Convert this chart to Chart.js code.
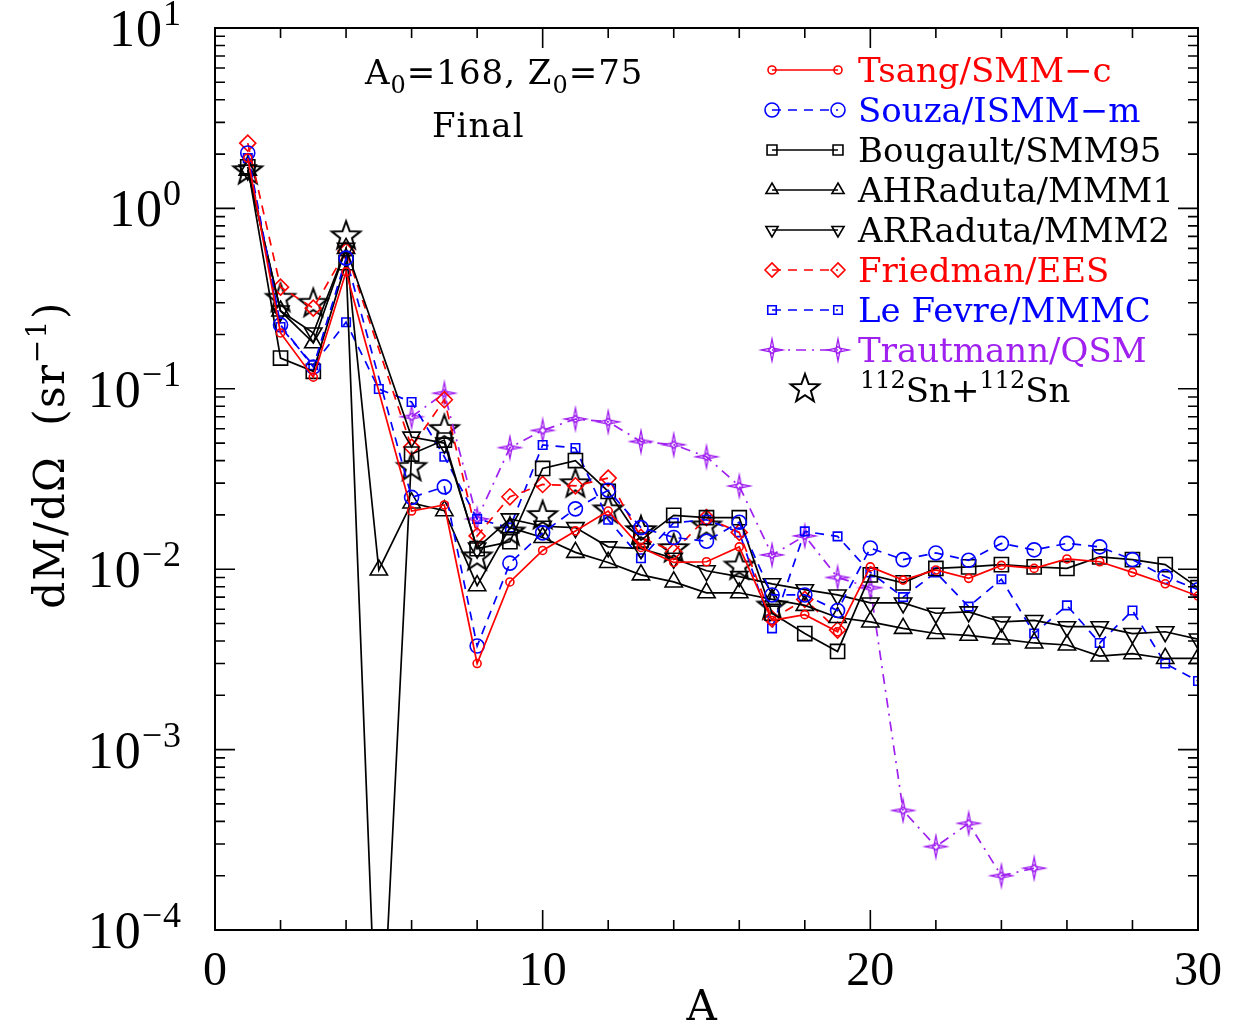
<!DOCTYPE html>
<html>
<head>
<meta charset="utf-8">
<script src="https://cdn.jsdelivr.net/npm/chart.js@4.4.1/dist/chart.umd.min.js"></script>
<style>
  html, body { margin: 0; padding: 0; background: #fff; }
  #wrap { width: 1241px; height: 1031px; }
</style>
</head>
<body>
<div id="wrap"><canvas id="grafico" width="1241" height="1031"></canvas></div>
<script>
// mass number of the fragment
const massNumbers = [1, 2, 3, 4, 5, 6, 7, 8, 9, 10, 11, 12, 13, 14, 15,
                     16, 17, 18, 19, 20, 21, 22, 23, 24, 25, 26, 27, 28, 29, 30];

// dM/dOmega (sr^-1), one value per mass number, null = no point
const tsang = [1.9, 0.204, 0.116, 0.445, null, 0.021, 0.0227, 0.0030, 0.0085, 0.0127,
               0.0163, 0.021, 0.0132, 0.0109, 0.0110, 0.0133, 0.0052, 0.0056, 0.0045, 0.0103,
               0.0087, 0.0099, 0.0089, 0.0105, 0.0101, 0.0114, 0.0110, 0.0096, 0.0083, 0.0071];
const souza = [2.03, 0.226, 0.132, 0.53, null, 0.025, 0.0286, 0.00375, 0.0108, 0.0159,
               0.0216, 0.0274, 0.017, 0.0150, 0.0143, 0.0182, 0.0072, 0.0072, 0.0059, 0.0131,
               0.0113, 0.0123, 0.0112, 0.0139, 0.0128, 0.0139, 0.0133, 0.0113, 0.0091, 0.0077];
const bougault = [1.7, 0.148, 0.125, 0.5, 0.00001, 0.0435, 0.052, 0.013, 0.0142, 0.0362,
                  0.040, 0.027, 0.0145, 0.0199, 0.0193, 0.0193, 0.0057, 0.0044, 0.0035, 0.0093,
                  0.0084, 0.0101, 0.0103, 0.0106, 0.0103, 0.0101, 0.0117, 0.0113, 0.0106, 0.0079];
const ahRaduta = [1.63, 0.27, 0.18, 0.6, 0.0099, 0.0233, 0.0211, 0.0081, 0.017, 0.015,
                  0.0124, 0.0109, 0.0093, 0.0085, 0.0074, 0.0074, 0.0068, 0.0063, 0.0054, 0.0051,
                  0.0047, 0.0044, 0.0043, 0.0041, 0.0039, 0.0038, 0.0033, 0.0034, 0.0032, 0.0032];
const arRaduta = [1.63, 0.27, 0.204, 0.6, null, 0.054, 0.050, 0.0131, 0.019, 0.0173,
                  0.017, 0.0133, 0.013, 0.0115, 0.0098, 0.0091, 0.0083, 0.0077, 0.0072, 0.0065,
                  0.0065, 0.0057, 0.0058, 0.0051, 0.0052, 0.0048, 0.0048, 0.0044, 0.0045, 0.0041];
const friedman = [2.3, 0.366, 0.28, 0.58, null, 0.0475, 0.087, 0.0153, 0.0252, 0.0295,
                  0.029, 0.032, 0.015, 0.0125, 0.0193, 0.016, 0.0053, 0.0068, 0.0046, null,
                  null, null, null, null, null, null, null, null, null, null];
const leFevre = [1.9, 0.22, 0.135, 0.234, 0.0998, 0.0845, 0.042, 0.019, 0.017, 0.0488,
                 0.047, 0.0188, 0.0115, 0.0181, 0.0188, 0.016, 0.0047, 0.0162, 0.0152, 0.0096,
                 0.0070, 0.0096, 0.0062, 0.0088, 0.0044, 0.0063, 0.0039, 0.0059, 0.0030, 0.0024];
const trautmann = [null, null, null, null, null, 0.070, 0.0945, 0.019, 0.0472, 0.0588,
                   0.068, 0.0656, 0.051, 0.0490, 0.042, 0.0289, 0.0120, 0.0153, 0.0090, 0.0079,
                   0.00046, 0.00029, 0.00039, 0.00020, 0.00022, null, null, null, null, null];
const snSn = [1.63, 0.32, 0.30, 0.71, null, 0.037, 0.060, 0.0118, 0.0162, 0.0200,
              0.0300, 0.0215, 0.0165, 0.0131, 0.0175, 0.0105, 0.0063, null, null, null,
              null, null, null, null, null, null, null, null, null, null];

const xTicks = [0, 10, 20, 30];
const yDecades = [1, 0, -1, -2, -3, -4];

const RED = '#ff0000', BLUE = '#0000ff', BLACK = '#000000', PURPLE = '#a020f0';
const SERIF = '"DejaVu Serif", serif';
const NUMF = '"Liberation Serif", serif';
const CLEAR = 'rgba(0,0,0,0)';

// open five-point star
function starMarker() {
    const c = document.createElement('canvas');
    c.width = 36; c.height = 36;
    const g = c.getContext('2d');
    g.strokeStyle = BLACK; g.lineWidth = 2;
    g.lineJoin = 'miter';
    g.beginPath();
    for (let i = 0; i < 10; i++) {
        const r = i % 2 === 0 ? 15 : 6.2;
        const a = -Math.PI / 2 + i * Math.PI / 5;
        const px = 18 + r * Math.cos(a), py = 19 + r * Math.sin(a);
        if (i === 0) g.moveTo(px, py); else g.lineTo(px, py);
    }
    g.closePath(); g.stroke();
    return c;
}

// four point sparkle with a small diamond in the middle
function sparkleMarker() {
    const c = document.createElement('canvas');
    c.width = 28; c.height = 28;
    const g = c.getContext('2d');
    g.strokeStyle = PURPLE; g.lineWidth = 1.3;
    g.beginPath();
    for (let i = 0; i < 8; i++) {
        const r = i % 2 === 0 ? 11 : 2.6;
        const a = -Math.PI / 2 + i * Math.PI / 4;
        const px = 14 + r * Math.cos(a), py = 14 + r * Math.sin(a);
        if (i === 0) g.moveTo(px, py); else g.lineTo(px, py);
    }
    g.closePath(); g.stroke();
    g.beginPath();
    g.moveTo(14, 10.5); g.lineTo(17.5, 14); g.lineTo(14, 17.5); g.lineTo(10.5, 14); g.closePath();
    g.stroke();
    return c;
}

function series(label, values, color, marker) {
    return Object.assign({
        label: label,
        data: values.map((v, i) => ({ x: massNumbers[i], y: v })),
        borderColor: color,
        backgroundColor: CLEAR,
        pointBorderColor: color,
        pointBackgroundColor: CLEAR,
        borderWidth: 1.7,
        pointBorderWidth: 1.6,
        pointHoverRadius: 0,
        spanGaps: true,
        tension: 0,
        textColor: color
    }, marker);
}

const datasets = [
    series('Tsang/SMM\u2212c', tsang, RED, { pointStyle: 'circle', pointRadius: 4 }),
    series('Souza/ISMM\u2212m', souza, BLUE, { pointStyle: 'circle', pointRadius: 7, borderDash: [9, 7] }),
    series('Bougault/SMM95', bougault, BLACK, { pointStyle: 'rect', pointRadius: 10 }),
    series('AHRaduta/MMM1', ahRaduta, BLACK, { pointStyle: 'triangle', pointRadius: 10 }),
    series('ARRaduta/MMM2', arRaduta, BLACK, { pointStyle: 'triangle', pointRadius: 10, pointRotation: 180 }),
    series('Friedman/EES', friedman, RED, { pointStyle: 'rectRot', pointRadius: 8, borderDash: [9, 7] }),
    series('Le Fevre/MMMC', leFevre, BLUE, { pointStyle: 'rect', pointRadius: 6, borderDash: [9, 7] }),
    series('Trautmann/QSM', trautmann, PURPLE, { pointStyle: sparkleMarker(), borderDash: [10, 6, 2, 6] }),
    series('112Sn+112Sn', snSn, BLACK, { pointStyle: starMarker(), showLine: false })
];

// draw text made of pieces: [text, size, rise, family]
function richText(ctx, pieces, x, y, align, spacing) {
    ctx.letterSpacing = (spacing || 0) + 'px';
    let w = 0;
    pieces.forEach(p => { ctx.font = p[1] + 'px ' + (p[3] || SERIF); w += ctx.measureText(p[0]).width; });
    let cx = align === 'right' ? x - w : align === 'center' ? x - w / 2 : x;
    ctx.textAlign = 'left';
    ctx.textBaseline = 'alphabetic';
    pieces.forEach(p => {
        ctx.font = p[1] + 'px ' + (p[3] || SERIF);
        ctx.fillText(p[0], cx, y - (p[2] || 0));
        cx += ctx.measureText(p[0]).width;
    });
    ctx.letterSpacing = '0px';
}

const decor = {
    id: 'decor',
    afterDraw(chart) {
        const { ctx, chartArea: a, scales: { x, y } } = chart;
        ctx.save();
        ctx.strokeStyle = BLACK;
        ctx.fillStyle = BLACK;
        ctx.lineWidth = 2;
        ctx.strokeRect(a.left, a.top, a.right - a.left, a.bottom - a.top);

        // inward ticks on all four sides
        ctx.lineWidth = 1.6;
        ctx.beginPath();
        for (let v = 0; v <= 30; v += 2) {
            const px = x.getPixelForValue(v);
            const len = v % 10 === 0 ? 20 : 10;
            ctx.moveTo(px, a.bottom); ctx.lineTo(px, a.bottom - len);
            ctx.moveTo(px, a.top); ctx.lineTo(px, a.top + len);
        }
        for (let k = -4; k <= 0; k++) {
            for (let m = 1; m <= 9; m++) {
                const py = y.getPixelForValue(m * Math.pow(10, k));
                const len = m === 1 ? 20 : 10;
                ctx.moveTo(a.left, py); ctx.lineTo(a.left + len, py);
                ctx.moveTo(a.right, py); ctx.lineTo(a.right - len, py);
            }
        }
        ctx.stroke();

        // y tick labels 10^k
        yDecades.forEach(k => {
            const py = y.getPixelForValue(Math.pow(10, k));
            const sup = k < 0 ? '\u2212' + (-k) : String(k);
            richText(ctx, [['10', 52, 0, NUMF], [sup, 36, 21, NUMF]], 182, py + 18, 'right', 1);
        });

        // axis titles
        richText(ctx, [['A', 42, 0]], x.getPixelForValue(14.85), 1020, 'center');
        ctx.save();
        ctx.translate(64, 455);
        ctx.rotate(-Math.PI / 2);
        richText(ctx, [['dM/d\u03A9  (sr', 42, 0], ['\u22121', 28, 18], [')', 42, 0]], 0, 0, 'center', 1.5);
        ctx.restore();

        // labels in the frame
        richText(ctx, [['A', 34, 0], ['0', 24, -9], ['=168, Z', 34, 0], ['0', 24, -9], ['=75', 34, 0]], 365, 84, 'left', 1);
        richText(ctx, [['Final', 34, 0]], 432, 137, 'left', 1);

        // legend
        const H = Chart.helpers;
        chart.data.datasets.forEach((ds, i) => {
            const ry = 70 + 40 * i;
            ctx.strokeStyle = ds.borderColor;
            ctx.lineWidth = ds.pointBorderWidth;
            const opts = { pointStyle: ds.pointStyle, radius: ds.pointRadius || 0, rotation: ds.pointRotation || 0, borderWidth: ds.pointBorderWidth };
            if (ds.showLine === false) {
                ctx.fillStyle = CLEAR;
                H.drawPoint(ctx, opts, 805, ry - 2);
                ctx.fillStyle = BLACK;
                richText(ctx, [['112', 24, 14], ['Sn+', 34, 0], ['112', 24, 14], ['Sn', 34, 0]], 860, ry + 12, 'left');
                return;
            }
            ctx.save();
            ctx.lineWidth = ds.borderWidth;
            ctx.setLineDash(ds.borderDash || []);
            ctx.beginPath(); ctx.moveTo(772, ry); ctx.lineTo(838, ry); ctx.stroke();
            ctx.restore();
            const lr = Math.min(opts.radius, 7);
            const small = Object.assign({}, opts, { radius: opts.radius ? lr : 0 });
            ctx.fillStyle = CLEAR;
            H.drawPoint(ctx, small, 772, ry);
            H.drawPoint(ctx, small, 838, ry);
            ctx.fillStyle = ds.textColor;
            richText(ctx, [[ds.label, 34, 0]], 858, ry + 12, 'left');
        });
        ctx.restore();
    }
};

new Chart(document.getElementById('grafico').getContext('2d'), {
    type: 'line',
    data: { datasets: datasets },
    options: {
        responsive: false,
        animation: false,
        events: [],
        layout: { padding: { top: 28, right: 43, left: 0, bottom: 0 } },
        plugins: { legend: { display: false }, tooltip: { enabled: false } },
        scales: {
            x: {
                type: 'linear', min: 0, max: 30,
                afterBuildTicks: s => { s.ticks = xTicks.map(v => ({ value: v })); },
                ticks: { color: BLACK, font: { family: NUMF, size: 48 }, padding: 14, maxRotation: 0 },
                grid: { display: false, drawTicks: false },
                border: { display: false },
                afterFit: s => { s.height = 101; }
            },
            y: {
                type: 'logarithmic', min: 1e-4, max: 10,
                ticks: { display: false },
                grid: { display: false, drawTicks: false },
                border: { display: false },
                afterFit: s => { s.width = 215; }
            }
        }
    },
    plugins: [decor]
});
</script>
</body>
</html>
